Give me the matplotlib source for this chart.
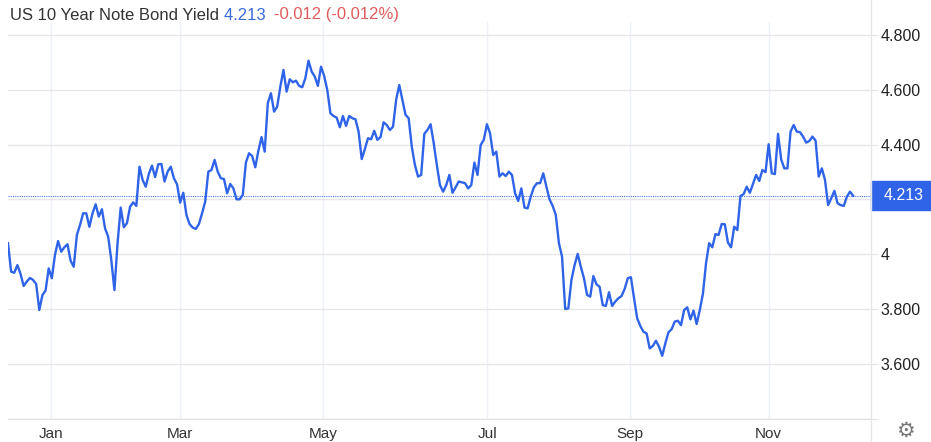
import matplotlib
matplotlib.use("Agg")
import matplotlib.pyplot as plt
from matplotlib.lines import Line2D
from matplotlib.patches import Rectangle
from matplotlib.transforms import blended_transform_factory

# daily closes, mid Dec 2023 -> Dec 2024
yields = [
    4.040, 3.936, 3.932, 3.960, 3.928, 3.884, 3.900, 3.913, 3.906, 3.891,
    3.796, 3.851, 3.867, 3.948, 3.912, 3.997, 4.048, 4.009, 4.025, 4.036,
    3.976, 3.954, 4.070, 4.106, 4.149, 4.149, 4.100, 4.149, 4.182, 4.137,
    4.164, 4.094, 4.064, 3.979, 3.869, 4.040, 4.170, 4.098, 4.113, 4.173,
    4.189, 4.176, 4.319, 4.271, 4.246, 4.293, 4.323, 4.281, 4.328, 4.329,
    4.265, 4.301, 4.319, 4.277, 4.255, 4.188, 4.224, 4.143, 4.110, 4.097,
    4.092, 4.110, 4.149, 4.192, 4.301, 4.307,
    4.344, 4.301, 4.277, 4.274, 4.222, 4.256, 4.240, 4.200, 4.200, 4.216,
    4.334, 4.368, 4.358, 4.317, 4.378, 4.427, 4.374, 4.551, 4.587, 4.520,
    4.538, 4.611, 4.672, 4.593, 4.638, 4.627, 4.633, 4.614, 4.609, 4.642,
    4.706, 4.666, 4.648, 4.614, 4.684, 4.650, 4.599, 4.514, 4.504, 4.498,
    4.463, 4.504, 4.468, 4.504, 4.496, 4.492, 4.447, 4.347, 4.383, 4.423,
    4.419, 4.450, 4.417, 4.427, 4.481, 4.471, 4.453, 4.465, 4.563, 4.617,
    4.563, 4.508, 4.496, 4.392, 4.325, 4.283, 4.289,
    4.439, 4.453, 4.474, 4.405, 4.325, 4.252, 4.228, 4.252, 4.289, 4.224,
    4.244, 4.265, 4.262, 4.259, 4.240, 4.252, 4.334, 4.289, 4.398, 4.417,
    4.474, 4.441, 4.362, 4.374, 4.283, 4.295, 4.285, 4.301, 4.289, 4.222,
    4.194, 4.240, 4.170, 4.167, 4.210, 4.244, 4.259, 4.259, 4.295, 4.246,
    4.200, 4.176, 4.143, 4.040, 3.991, 3.800, 3.802, 3.906, 3.960, 4.001,
    3.954, 3.912, 3.851, 3.845, 3.920, 3.890, 3.881, 3.814, 3.811, 3.861,
    3.811, 3.827, 3.839, 3.847, 3.873, 3.912, 3.916,
    3.839, 3.766, 3.738, 3.717, 3.711, 3.656, 3.665, 3.684, 3.662, 3.629,
    3.675, 3.715, 3.726, 3.754, 3.757, 3.741, 3.796, 3.806, 3.762, 3.794,
    3.745, 3.796, 3.855, 3.967, 4.040, 4.025, 4.073, 4.070, 4.110, 4.109,
    4.042, 4.025, 4.100, 4.088, 4.212, 4.219, 4.246, 4.224, 4.256, 4.289,
    4.267, 4.307, 4.299, 4.401, 4.295, 4.292, 4.439, 4.346, 4.313, 4.313,
    4.447, 4.471, 4.447, 4.445, 4.429, 4.407, 4.413, 4.429, 4.414, 4.283,
    4.313, 4.271, 4.179, 4.204, 4.231, 4.186, 4.179, 4.176, 4.210, 4.228,
    4.213,
]

month_labels = ["Jan", "Mar", "May", "Jul", "Sep", "Nov"]
month_pos = [13.6, 55, 100.7, 153.1, 198.8, 243]   # index of first session
y_ticks = [3.4, 3.6, 3.8, 4.0, 4.2, 4.4, 4.6, 4.8]
y_labels = ["", "3.600", "3.800", "4", "", "4.400", "4.600", "4.800"]

title = "US 10 Year Note Bond Yield"
last = 4.213
change = "-0.012 (-0.012%)"

BLUE = "#2f63e8"
GRID = "#e6e6e6"

plt.rcParams['font.family'] = ['Liberation Sans', 'DejaVu Sans']

W, H = 931, 442
fig = plt.figure(figsize=(W / 100, H / 100), dpi=100)
ax = fig.add_axes([8 / W, 1 - 418.6 / H, (871 - 8) / W, (418.6 - 22) / H])

ax.plot(range(len(yields)), yields, color=BLUE, lw=1.7, solid_joinstyle='round', zorder=3)
ax.axhline(last, color="#4a78e0", ls=(0, (1, 1)), lw=0.8, zorder=2)

ax.set_xlim(0, 275.7)
ax.set_ylim(3.4, 4.847)

ax.set_yticks(y_ticks)
ax.set_yticklabels(y_labels)
ax.yaxis.tick_right()
ax.tick_params(axis='y', length=5, color=GRID, pad=2, labelsize=11.5, labelcolor='#222222')
ax.set_xticks(month_pos)
ax.set_xticklabels(month_labels)
ax.tick_params(axis='x', length=0, pad=6, labelsize=11, labelcolor='#333333')

ax.grid(axis='y', color=GRID, lw=1)
ax.grid(axis='x', color='#eef1f6', lw=1)
for s in ['top', 'left', 'right']:
    ax.spines[s].set_visible(False)
ax.spines['bottom'].set_color('#e0e0e0')

# price scale separator, full height
fig.add_artist(Line2D([871 / W, 871 / W], [0, 1], color=GRID, lw=1))

# last price marker on the scale
tr = blended_transform_factory(fig.transFigure, ax.transData)
ax.add_patch(Rectangle((871 / W, last - 0.053), 60 / W, 0.106, transform=tr,
                       color=BLUE, clip_on=False, zorder=5))
ax.text(884 / W, last, f"{last:.3f}", transform=tr, color='white', fontsize=11.5,
        va='center', ha='left', zorder=6, clip_on=False)

# title in three colours
fig.canvas.draw()
r = fig.canvas.get_renderer()
x0 = 10 / W
ty = 1 - 15 / H
for txt, col in [(title + " ", '#333333'), (f"{last:.3f}" + "  ", '#3a6ad8'), (change, '#e05c5c')]:
    t = fig.text(x0, ty, txt, color=col, fontsize=12, va='center', ha='left')
    x0 = fig.transFigure.inverted().transform(t.get_window_extent(r))[1][0]

# settings gear
fig.text(905 / W, 1 - 431 / H, "\u2699", family='DejaVu Sans', fontsize=15,
         color='#777777', ha='center', va='center')

fig.savefig("out.png", dpi=100)
